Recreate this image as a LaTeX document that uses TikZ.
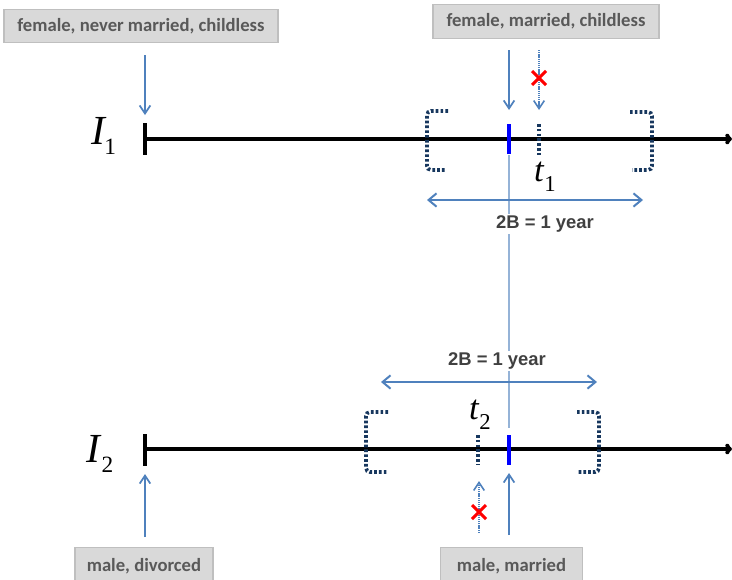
\documentclass[tikz,border=0pt]{standalone}
\usepackage{fontspec}
\setmainfont{Carlito}
\newfontfamily\arialf{Liberation Sans}
\newfontfamily\timesf{Liberation Serif}
\usetikzlibrary{arrows.meta,calc}
\definecolor{boxfill}{RGB}{217,217,217}
\definecolor{boxline}{RGB}{191,191,191}
\definecolor{boxtext}{RGB}{89,89,89}
\definecolor{arrowblue}{RGB}{79,129,189}
\definecolor{paleblue}{RGB}{149,179,215}
\definecolor{navy}{RGB}{23,55,94}
\definecolor{spanlabel}{RGB}{64,64,64}
\tikzset{
  x=0.75pt, y=-0.75pt,
  statebox/.style={fill=boxfill, draw=boxline, line width=0.8pt, text=boxtext,
    font=\bfseries\fontsize{14}{16}\selectfont, inner sep=0pt, minimum height=25pt},
  timeline/.style={line width=3pt, -{To[length=5pt,width=8pt]}},
  starttick/.style={line width=3pt},
  eventtick/.style={line width=3pt, blue},
  othertick/.style={line width=3pt, navy, dash pattern=on 2pt off 1.6pt},
  window/.style={line width=2.8pt, navy, dash pattern=on 2pt off 1.6pt, rounded corners=3pt},
  pointer/.style={line width=1.3pt, arrowblue, -{Straight Barb[length=6pt,width=8pt]}},
  falsepointer/.style={line width=1.2pt, arrowblue, dash pattern=on 1pt off 0.6pt, -{Straight Barb[length=6pt,width=8pt]}},
  span/.style={line width=1.5pt, arrowblue, {Straight Barb[length=6pt,width=10pt]}-{Straight Barb[length=6pt,width=10pt]}},
  spantext/.style={text=spanlabel, font=\arialf\bfseries\fontsize{13.8}{15}\selectfont, fill=white, inner sep=1.5pt},
  cross/.style={red, line width=2.2pt},
}
\newcommand{\crossmark}[1]{\draw[cross] ($(#1)+(-7,-7)$) -- ($(#1)+(7,7)$) ($(#1)+(-7,7)$) -- ($(#1)+(7,-7)$);}
\begin{document}
\begin{tikzpicture}
\useasboundingbox (0,0) rectangle (732,579);

% ---------- state boxes ----------
\node[statebox, minimum width=205.5pt] (fnm) at (141,26) {female, never married, childless};
\node[statebox, minimum width=169.5pt] (fmc) at (546,21.5) {female, married, childless};
\node[statebox, minimum width=103.5pt, minimum height=28pt] (md) at (144,566.5) {male, divorced};
\node[statebox, minimum width=107pt, minimum height=28pt] (mm) at (511.5,566.5) {male, married};

% ---------- first individual ----------
\coordinate (s1) at (145,139);
\coordinate (e1) at (732,139);
\draw[timeline] (s1) -- (e1);
\draw[starttick] (145,123) -- (145,155);
\node (lab1) at (104,136) {\timesf\fontsize{31}{31}\selectfont\itshape I\kern-1pt\raisebox{-0.55ex}{\upshape\fontsize{17.5}{17.5}\selectfont 1}};

\coordinate (b1top) at (509,124);
\coordinate (b1bot) at (509,154);
\coordinate (d1top) at (539,124);
\coordinate (d1bot) at (539,155);
% reference line shared by both windows
\coordinate (midtop) at (509,155);
\coordinate (midbot) at (509,428);
\draw[paleblue, line width=1pt] (midtop) -- (midbot);

\draw[eventtick] (b1top) -- (b1bot);
\draw[othertick] (d1top) -- (d1bot);

\draw[window] (448,111) -- (427,111) -- (427,170) -- (446,170);
\draw[window] (630,112) -- (652,112) -- (652,170) -- (632,170);

\node (t1) at (545,177) {\timesf\fontsize{26}{26}\selectfont\itshape t\kern0.5pt\raisebox{-0.6ex}{\upshape\fontsize{17}{17}\selectfont 1}};

\coordinate (sp1l) at (427,200);
\coordinate (sp1r) at (643,200);
\draw[span] (sp1l) -- (sp1r);
\node[spantext] (sp1lab) at (545,224) {2B = 1 year};

\coordinate (a1from) at (145,55);
\coordinate (a1to) at (145,115);
\draw[pointer] (a1from) -- (a1to);
\coordinate (a2from) at (509,50);
\coordinate (a2to) at (509,110);
\draw[pointer] (a2from) -- (a2to);
\coordinate (a3from) at (539,50);
\coordinate (a3to) at (539,110);
\draw[falsepointer] (a3from) -- (a3to);
\coordinate (x1) at (539,78);
\crossmark{x1}

% ---------- second individual ----------
\coordinate (s2) at (145,449);
\coordinate (e2) at (732,449);
\draw[timeline] (s2) -- (e2);
\draw[starttick] (145,434) -- (145,466);
\node (lab2) at (100,454) {\timesf\fontsize{31}{31}\selectfont\itshape I\kern1pt\raisebox{-0.55ex}{\upshape\fontsize{17.5}{17.5}\selectfont 2}};

\node[spantext] (sp2lab) at (497,361) {2B = 1 year};
\coordinate (sp2l) at (381,382);
\coordinate (sp2r) at (597,382);
\draw[span] (sp2l) -- (sp2r);

\draw[window] (388,412) -- (366,412) -- (366,472) -- (388,472);
\draw[window] (577,412) -- (599,412) -- (599,472) -- (577,472);

\node (t2) at (480,415) {\timesf\fontsize{26}{26}\selectfont\itshape t\kern0.5pt\raisebox{-0.6ex}{\upshape\fontsize{17}{17}\selectfont 2}};

\coordinate (b2top) at (509,435);
\coordinate (b2bot) at (509,465);
\coordinate (d2top) at (478,435);
\coordinate (d2bot) at (478,464);
\draw[eventtick] (b2top) -- (b2bot);
\draw[othertick] (d2top) -- (d2bot);

\coordinate (a4from) at (145,537);
\coordinate (a4to) at (145,474);
\draw[pointer] (a4from) -- (a4to);
\coordinate (a5from) at (509,535);
\coordinate (a5to) at (509,473);
\draw[pointer] (a5from) -- (a5to);
\coordinate (a6from) at (479,533);
\coordinate (a6to) at (479,481);
\draw[falsepointer] (a6from) -- (a6to);
\coordinate (x2) at (479,512);
\crossmark{x2}
\end{tikzpicture}
\end{document}
